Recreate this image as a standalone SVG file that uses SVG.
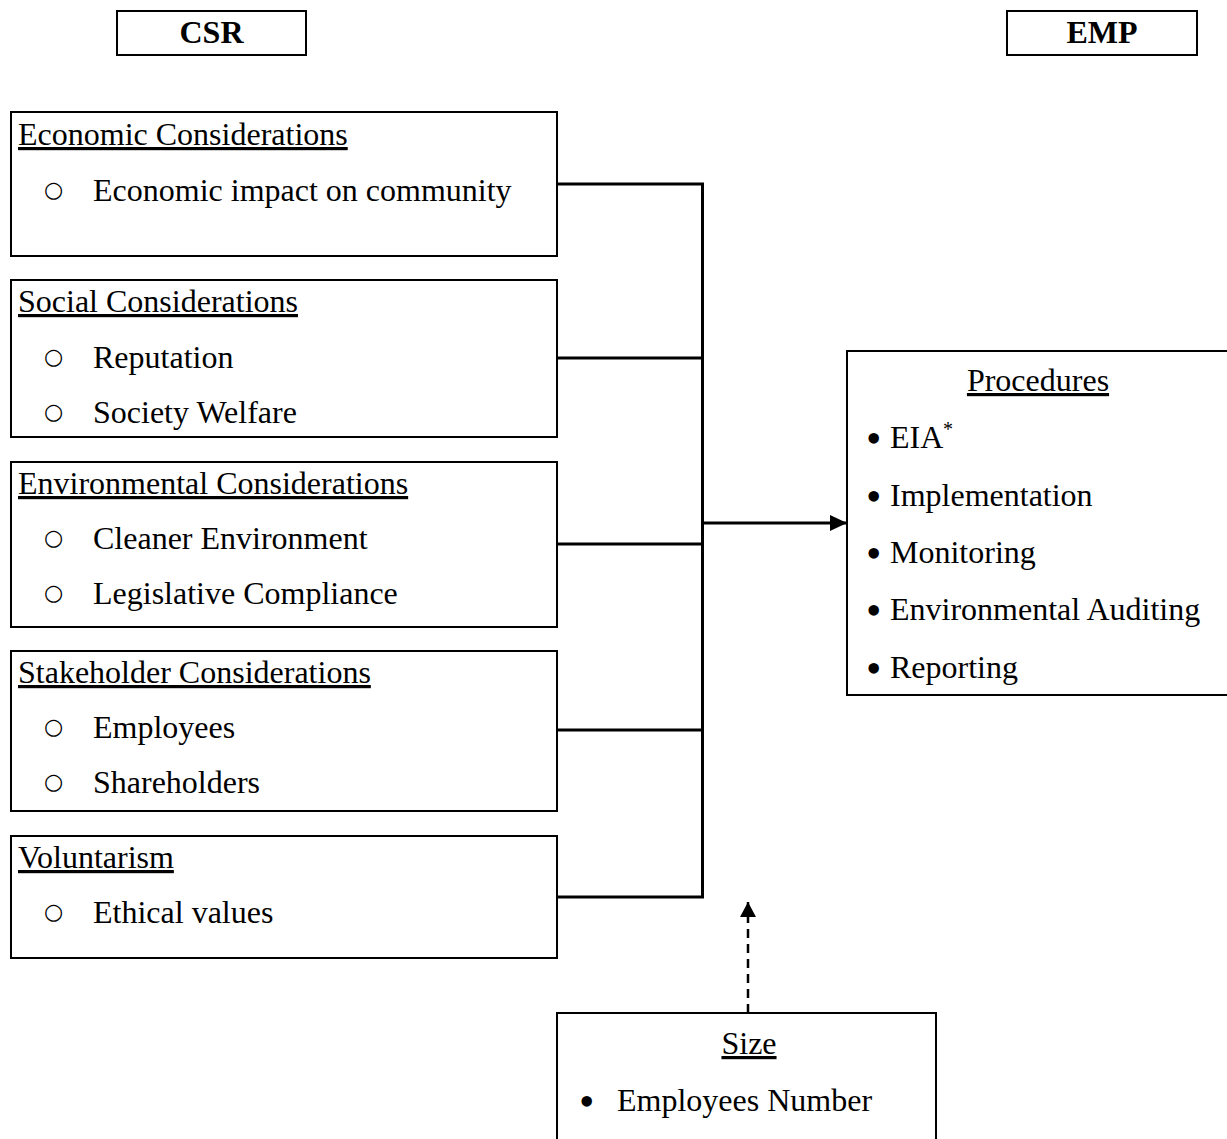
<svg xmlns="http://www.w3.org/2000/svg" width="1227" height="1139" viewBox="0 0 1227 1139">
<style>
text{font-family:"Liberation Serif","Times New Roman",serif;font-size:32px;fill:#000}
.b{font-weight:bold}
.u{text-decoration:underline}
.o{font-family:"DejaVu Sans",sans-serif;font-size:22px}
.dot{font-size:44px}
.box{fill:#fff;stroke:#000;stroke-width:2}
.con{fill:none;stroke:#000;stroke-width:3}
</style>
<defs>
<marker id="ah" markerUnits="userSpaceOnUse" markerWidth="18" markerHeight="16" refX="17" refY="8" orient="auto">
<path d="M0,0 L17,8 L0,16 Z" fill="#000"/>
</marker>
<marker id="ah2" markerUnits="userSpaceOnUse" markerWidth="16" markerHeight="16" refX="15" refY="8" orient="auto">
<path d="M0,0 L15,8 L0,16 Z" fill="#000"/>
</marker>
</defs>
<rect width="1227" height="1139" fill="#fff"/>
<g id="connectors">
<path class="con" d="M557,184 H702.5 V897 H557 M557,358 H702.5 M557,544 H702.5 M557,730 H702.5"/>
<line class="con" x1="702.5" y1="523" x2="847" y2="523" marker-end="url(#ah)"/>
<line x1="748" y1="1013" x2="748" y2="902" stroke="#000" stroke-width="2.5" stroke-dasharray="9,6" marker-end="url(#ah2)"/>
</g>
<g id="csr">
<rect class="box" x="117" y="11" width="189" height="44"/>
<text class="b" x="211.5" y="43" text-anchor="middle">CSR</text>
</g>
<g id="emp">
<rect class="box" x="1007" y="11" width="190" height="44"/>
<text class="b" x="1102" y="43" text-anchor="middle">EMP</text>
</g>
<g id="economic">
<rect class="box" x="11" y="112" width="546" height="144"/>
<text class="u" x="18" y="145">Economic Considerations</text>
<text class="o" x="44" y="197">○</text>
<text x="93" y="201">Economic impact on community</text>
</g>
<g id="social">
<rect class="box" x="11" y="280" width="546" height="157"/>
<text class="u" x="18" y="312">Social Considerations</text>
<text class="o" x="44" y="364">○</text>
<text x="93" y="368">Reputation</text>
<text class="o" x="44" y="419">○</text>
<text x="93" y="423">Society Welfare</text>
</g>
<g id="environmental">
<rect class="box" x="11" y="462" width="546" height="165"/>
<text class="u" x="18" y="494">Environmental Considerations</text>
<text class="o" x="44" y="545">○</text>
<text x="93" y="549">Cleaner Environment</text>
<text class="o" x="44" y="600">○</text>
<text x="93" y="604">Legislative Compliance</text>
</g>
<g id="stakeholder">
<rect class="box" x="11" y="651" width="546" height="160"/>
<text class="u" x="18" y="683">Stakeholder Considerations</text>
<text class="o" x="44" y="734">○</text>
<text x="93" y="738">Employees</text>
<text class="o" x="44" y="789">○</text>
<text x="93" y="793">Shareholders</text>
</g>
<g id="voluntarism">
<rect class="box" x="11" y="836" width="546" height="122"/>
<text class="u" x="18" y="868">Voluntarism</text>
<text class="o" x="44" y="919">○</text>
<text x="93" y="923">Ethical values</text>
</g>
<g id="procedures">
<rect class="box" x="847" y="351" width="400" height="344"/>
<text class="u" x="1038" y="391" text-anchor="middle">Procedures</text>
<text class="dot" x="866" y="453">•</text><text x="890" y="448">EIA</text><text x="943" y="436" style="font-size:20px">*</text>
<text class="dot" x="866" y="511">•</text><text x="890" y="506">Implementation</text>
<text class="dot" x="866" y="568">•</text><text x="890" y="563">Monitoring</text>
<text class="dot" x="866" y="625">•</text><text x="890" y="620">Environmental Auditing</text>
<text class="dot" x="866" y="683">•</text><text x="890" y="678">Reporting</text>
</g>
<g id="size">
<rect class="box" x="557" y="1013" width="379" height="140"/>
<text class="u" x="749" y="1054" text-anchor="middle">Size</text>
<text class="dot" x="579" y="1116">•</text>
<text x="617" y="1111">Employees Number</text>
</g>
</svg>
